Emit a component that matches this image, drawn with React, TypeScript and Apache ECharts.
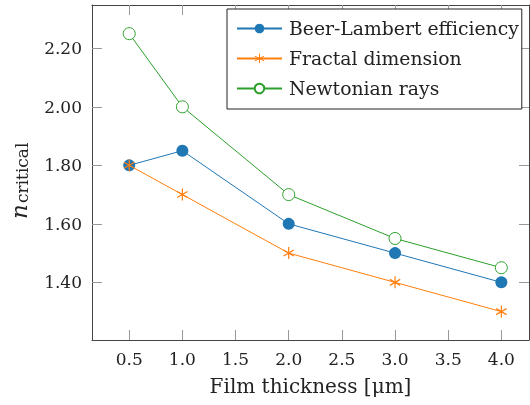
import React, { useEffect, useRef } from "react";
import * as echarts from "echarts";

const thickness = [0.5, 1.0, 2.0, 3.0, 4.0];
const beerLambert = [1.8, 1.85, 1.6, 1.5, 1.4];
const fractal = [1.8, 1.7, 1.5, 1.4, 1.3];
const newtonian = [2.25, 2.0, 1.7, 1.55, 1.45];
const xTicks = [0.5, 1.0, 1.5, 2.0, 2.5, 3.0, 3.5, 4.0];
const yTicks = [1.4, 1.6, 1.8, 2.0, 2.2];
const seriesNames = ["Beer-Lambert efficiency", "Fractal dimension", "Newtonian rays"];

const FONT = "DejaVu Serif";
const asterisk =
  "path://M45 0 L55 0 L55 100 L45 100 Z M9.2 20.67 L95.8 70.67 L90.8 79.33 L4.2 29.33 Z M4.2 70.67 L90.8 20.67 L95.8 29.33 L9.2 79.33 Z";

export default function App() {
  const ref = useRef<HTMLDivElement>(null);
  useEffect(() => {
    document.body.style.margin = "0";
    const chart = echarts.init(ref.current!, null, { renderer: "svg" });
    const pair = (ys: number[]) => thickness.map((x, i) => [x, ys[i]]);
    const xBase = {
      type: "value" as const,
      min: 0.15,
      max: 4.26,
      splitLine: { show: false },
      axisLine: { show: true, lineStyle: { color: "#444", width: 1 } },
      axisTick: { show: true, inside: true, length: 10, customValues: xTicks, lineStyle: { color: "#999", width: 1 } },
    };
    const yBase = {
      type: "value" as const,
      min: 1.203,
      max: 2.348,
      splitLine: { show: false },
      axisLine: { show: true, lineStyle: { color: "#444", width: 1 } },
      axisTick: { show: true, inside: true, length: 10, customValues: yTicks, lineStyle: { color: "#999", width: 1 } },
    };
    chart.setOption({
      animation: false,
      grid: { left: 92, top: 5, right: 1, bottom: 65 },
      xAxis: [
        {
          ...xBase,
          position: "bottom",
          name: "Film thickness [μm]",
          nameLocation: "middle",
          nameGap: 36,
          nameTextStyle: { fontFamily: FONT, fontSize: 20, color: "#222" },
          axisLabel: {
            customValues: xTicks,
            margin: 10,
            fontFamily: FONT,
            fontSize: 17,
            color: "#222",
            formatter: (v: number) => v.toFixed(1),
          },
        },
        { ...xBase, position: "top", axisLabel: { show: false } },
      ],
      yAxis: [
        {
          ...yBase,
          position: "left",
          axisLabel: {
            customValues: yTicks,
            margin: 10,
            fontFamily: FONT,
            fontSize: 17,
            color: "#222",
            formatter: (v: number) => v.toFixed(2),
          },
        },
        { ...yBase, position: "right", axisLabel: { show: false } },
      ],
      legend: {
        orient: "vertical",
        left: 227,
        top: 9,
        padding: [10, 3, 11, 9],
        itemWidth: 45,
        itemHeight: 12,
        itemGap: 11,
        backgroundColor: "#fff",
        borderColor: "#222",
        borderWidth: 1,
        borderRadius: 0,
        textStyle: { fontFamily: FONT, fontSize: 18.8, color: "#222", padding: [0, 0, 0, 2] },
        data: seriesNames,
      },
      graphic: [
        {
          type: "group",
          x: 25,
          y: 219,
          rotation: Math.PI / 2,
          children: [
            {
              type: "text",
              x: 0,
              y: 5,
              style: { text: "n", fontFamily: FONT, fontStyle: "italic", fontSize: 23, fill: "#222", textAlign: "left", textVerticalAlign: "bottom" },
            },
            {
              type: "text",
              x: 16,
              y: 5,
              style: { text: "critical", fontFamily: FONT, fontSize: 17, fill: "#222", textAlign: "left", textVerticalAlign: "bottom" },
            },
          ],
        },
      ],
      series: [
        {
          name: seriesNames[0],
          type: "line",
          data: pair(beerLambert),
          symbol: "circle",
          symbolSize: 12,
          color: "#1f77b4",
          lineStyle: { width: 1, color: "#1f77b4" },
          itemStyle: { color: "#1f77b4" },
        },
        {
          name: seriesNames[1],
          type: "line",
          data: pair(fractal),
          symbol: asterisk,
          symbolSize: 12,
          symbolKeepAspect: true,
          color: "#ff7f0e",
          lineStyle: { width: 1, color: "#ff7f0e" },
          itemStyle: { color: "#ff7f0e" },
        },
        {
          name: seriesNames[2],
          type: "line",
          data: pair(newtonian),
          symbol: "circle",
          symbolSize: 12,
          color: "#2ca02c",
          lineStyle: { width: 1, color: "#2ca02c" },
          itemStyle: { color: "#fff", borderColor: "#2ca02c", borderWidth: 1 },
        },
      ],
    });
    return () => chart.dispose();
  }, []);
  return <div ref={ref} style={{ position: "fixed", left: 0, top: 0, width: 530, height: 405 }} />;
}
